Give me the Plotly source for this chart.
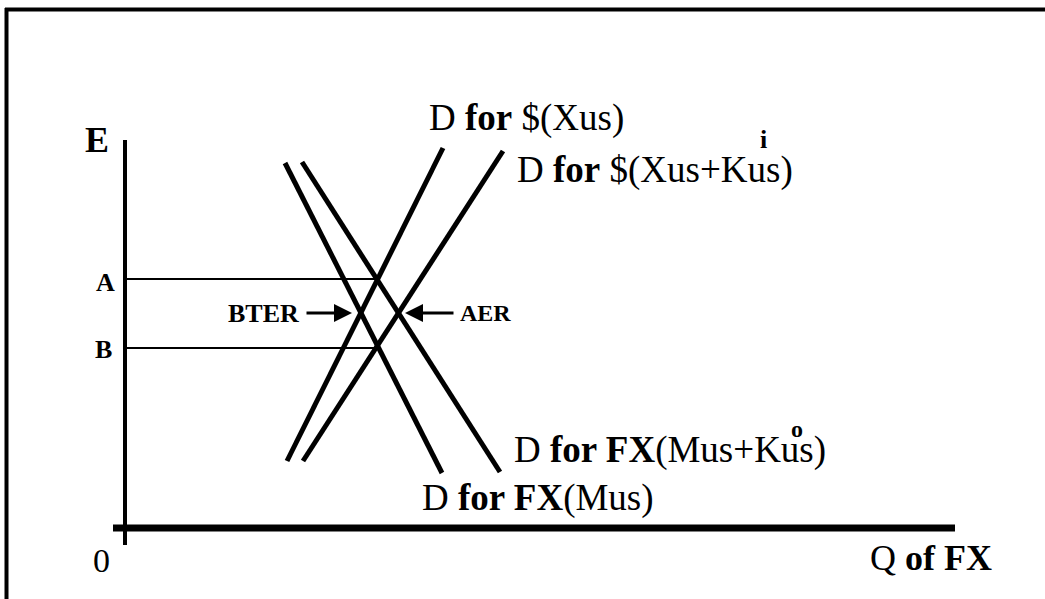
import plotly.graph_objects as go

# ---- data (Q on x, E on y; arbitrary units, origin at axes crossing) ----
xus_q = [16.2, 31.8]
xus_e = [6.7, 38.0]
xusk_q = [17.8, 37.8]
xusk_e = [6.7, 37.7]
mus_q = [16.0, 31.7]
mus_e = [36.5, 5.5]
musk_q = [17.7, 37.5]
musk_e = [36.6, 5.6]

rate_A = 24.9
rate_B = 18.0
rate_A_end = 25.2
rate_B_end = 25.0

axis_x_q = [-1.2, 83.0]
axis_y_e = [-1.7, 38.8]

bter_e = 21.5
bter_tail_q, bter_head_q = 18.0, 22.7
aer_tail_q, aer_head_q = 33.0, 28.0

SERIF = "Liberation Serif, Times New Roman, serif"
BLACK = "#000000"

fig = go.Figure()

def line(xs, ys, w):
    fig.add_trace(go.Scatter(x=xs, y=ys, mode="lines",
                             line=dict(color=BLACK, width=w),
                             hoverinfo="skip", showlegend=False))

# axes
line(axis_x_q, [0, 0], 7)
line([0, 0], axis_y_e, 4)
# exchange-rate levels
line([0, rate_A_end], [rate_A, rate_A], 2)
line([0, rate_B_end], [rate_B, rate_B], 2)
# demand curves
line(xus_q, xus_e, 5)
line(xusk_q, xusk_e, 5)
line(mus_q, mus_e, 5)
line(musk_q, musk_e, 5)

def txt(x, y, s, size, bold=False, anchor="left"):
    fig.add_annotation(x=x, y=y, text=(f"<b>{s}</b>" if bold else s),
                       showarrow=False, xanchor=anchor, yanchor="middle",
                       font=dict(family=SERIF, size=size, color=BLACK))

txt(30.2, 41.0, "D <b>for</b> $(Xus)", 37)
txt(39.0, 35.8, "D <b>for</b> $(Xus+Kus)", 37)
txt(38.7, 7.8, "D <b>for FX</b>(Mus+Kus)", 37)
txt(29.5, 3.0, "D <b>for FX</b>(Mus)", 37)
txt(63.8, 38.9, "i", 26, bold=True, anchor="center")
txt(67.2, 9.9, "o", 24, bold=True, anchor="center")

txt(-2.8, 38.8, "E", 36, bold=True, anchor="center")
txt(-2.0, 24.6, "A", 26, bold=True, anchor="center")
txt(-2.2, 17.9, "B", 26, bold=True, anchor="center")
txt(-2.4, -3.2, "0", 34, anchor="center")
txt(80.6, -3.0, "Q <b>of FX</b>", 36, anchor="center")

txt(13.8, bter_e, "BTER", 26, bold=True, anchor="center")
txt(33.3, bter_e, "AER", 24, bold=True, anchor="left")

for tail, head in [(bter_tail_q, bter_head_q), (aer_tail_q, aer_head_q)]:
    fig.add_annotation(x=head, y=bter_e, ax=tail, ay=bter_e,
                       xref="x", yref="y", axref="x", ayref="y",
                       text="", showarrow=True, arrowhead=2,
                       arrowsize=1.2, arrowwidth=3, arrowcolor=BLACK)

# frame (left and top edges)
W, H = 1045, 599
fig.add_shape(type="line", xref="paper", yref="paper",
              x0=6.5 / W, x1=6.5 / W, y0=0, y1=1 - 8 / H,
              line=dict(color=BLACK, width=4))
fig.add_shape(type="line", xref="paper", yref="paper",
              x0=5 / W, x1=1, y0=1 - 9.5 / H, y1=1 - 9.5 / H,
              line=dict(color=BLACK, width=4))

fig.update_layout(
    width=W, height=H,
    margin=dict(l=0, r=0, t=0, b=0),
    paper_bgcolor="white", plot_bgcolor="white",
    xaxis=dict(range=[-12.5, 92.0], visible=False, fixedrange=True),
    yaxis=dict(range=[-7.1, 52.8], visible=False, fixedrange=True),
    showlegend=False,
)

fig.write_html("out.html",
               config={"displayModeBar": False, "staticPlot": True},
               post_script="document.body.style.margin='0';"
                           "document.body.style.overflow='hidden';")
